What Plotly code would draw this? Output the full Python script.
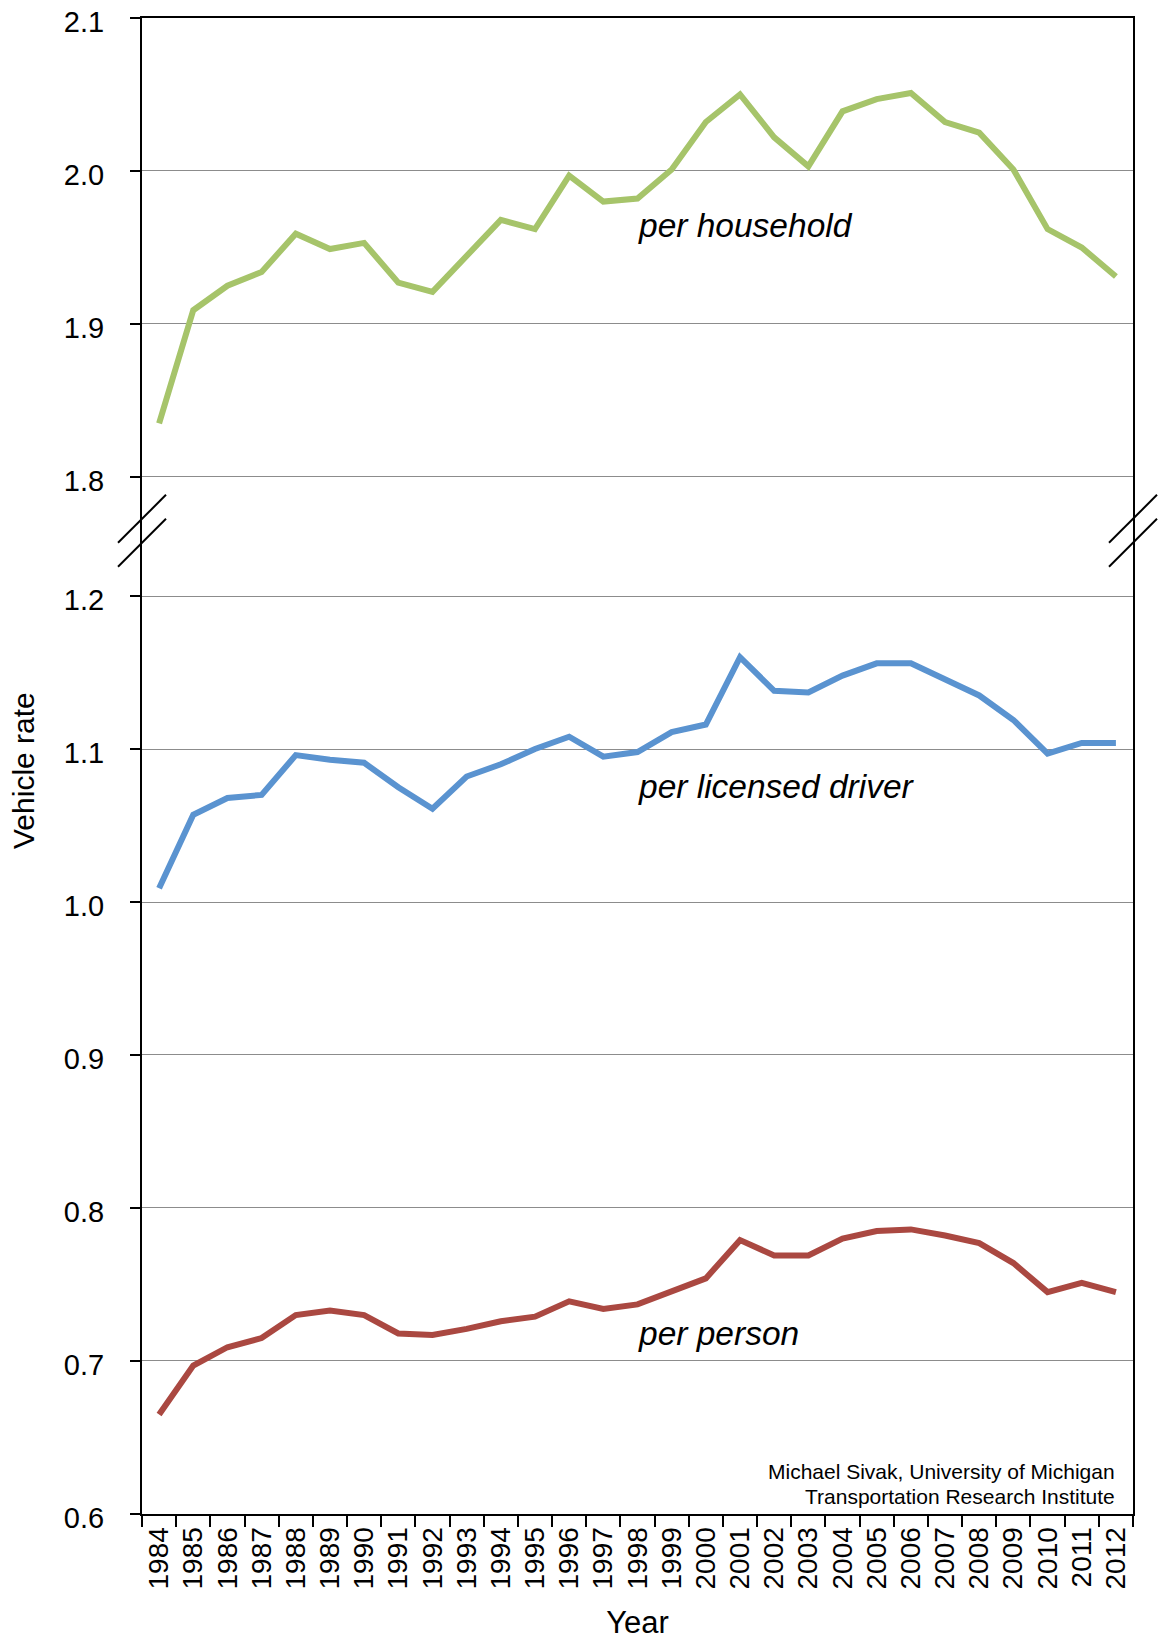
import plotly.graph_objects as go
from plotly.subplots import make_subplots

years = [str(y) for y in range(1984, 2013)]

per_household = [1.835, 1.909, 1.925, 1.934, 1.959, 1.949, 1.953, 1.927, 1.921, 1.944,
                 1.968, 1.962, 1.997, 1.980, 1.982, 2.001, 2.032, 2.050, 2.022, 2.003,
                 2.039, 2.047, 2.051, 2.032, 2.025, 2.001, 1.962, 1.950, 1.931]

per_licensed_driver = [1.009, 1.057, 1.068, 1.070, 1.096, 1.093, 1.091, 1.075, 1.061, 1.082,
                       1.090, 1.100, 1.108, 1.095, 1.098, 1.111, 1.116, 1.160, 1.138, 1.137,
                       1.148, 1.156, 1.156, 1.145, 1.135, 1.119, 1.097, 1.104, 1.104]

per_person = [0.665, 0.697, 0.709, 0.715, 0.730, 0.733, 0.730, 0.718, 0.717, 0.721,
              0.726, 0.729, 0.739, 0.734, 0.737, 0.745, 0.754, 0.779, 0.769, 0.769,
              0.780, 0.785, 0.786, 0.782, 0.777, 0.764, 0.745, 0.751, 0.745]

top_ticks = [1.8, 1.9, 2.0, 2.1]
bottom_ticks = [0.6, 0.7, 0.8, 0.9, 1.0, 1.1, 1.2]

GREEN = "#A6C46A"
BLUE = "#5A93D0"
RED = "#AA4841"
FONT = "Liberation Sans, Arial, sans-serif"

BREAK = 0.6572

fig = make_subplots(rows=2, cols=1, shared_xaxes=False, vertical_spacing=0,
                    row_heights=[1 - BREAK, BREAK])

fig.add_trace(go.Scatter(x=years, y=per_household, mode="lines",
                         line=dict(color=GREEN, width=6), name="per household"),
              row=1, col=1)
fig.add_trace(go.Scatter(x=years, y=per_licensed_driver, mode="lines",
                         line=dict(color=BLUE, width=6), name="per licensed driver"),
              row=2, col=1)
fig.add_trace(go.Scatter(x=years, y=per_person, mode="lines",
                         line=dict(color=RED, width=6), name="per person"),
              row=2, col=1)

grid = "#8C8C8C"
tickfont = dict(family=FONT, size=28, color="black")
ytickfont = dict(family=FONT, size=29, color="black")

fig.update_layout(
    width=1159, height=1640,
    margin=dict(l=142, r=26, t=17.5, b=126),
    paper_bgcolor="white", plot_bgcolor="white",
    showlegend=False,
    font=dict(family=FONT, color="black"),
)

yaxis_common = dict(tickformat=".1f", showline=True, mirror=True, linecolor="black", linewidth=2,
                    ticks="outside", ticklen=10, tickwidth=1.5, tickcolor="black",
                    ticklabelstandoff=20, ticklabelshift=4, tickfont=ytickfont,
                    ticklabeloverflow="allow",
                    showgrid=True, gridcolor=grid, gridwidth=1, zeroline=False, automargin=False)

# top subplot axes
fig.update_xaxes(row=1, col=1, type="category", side="top", showline=True, linecolor="black",
                 linewidth=2, ticks="", showticklabels=False, showgrid=False, zeroline=False,
                 range=[-0.5, 28.5], automargin=False)
fig.update_yaxes(row=1, col=1, range=[1.7648, 2.1], tickvals=top_ticks, **yaxis_common)

# bottom subplot axes
fig.update_xaxes(row=2, col=1, type="category", showline=True, linecolor="black", linewidth=2,
                 ticks="outside", ticklen=11, tickwidth=1.5, tickcolor="black",
                 tickson="boundaries", tickangle=-90, tickfont=tickfont, ticklabeloverflow="allow",
                 showgrid=False, zeroline=False, range=[-0.5, 28.5], automargin=False,
                 title=dict(text="Year", font=dict(family=FONT, size=31), standoff=25))
fig.update_yaxes(row=2, col=1, range=[0.6, 1.2426], tickvals=bottom_ticks, **yaxis_common)

# y axis title centred over whole plot height
fig.add_annotation(text="Vehicle rate", xref="paper", yref="paper", x=0, y=0.497,
                   xshift=-137, textangle=-90, showarrow=False,
                   font=dict(family=FONT, size=30, color="black"))

# series labels (category axes take the category index)
i1998 = years.index("1998")
i2012 = years.index("2012")
ann_font = dict(family=FONT, size=33.5, color="black")
fig.add_annotation(text="<i>per household</i>", x=i1998, y=1.9647, xref="x", yref="y",
                   xanchor="left", yanchor="middle", xshift=-2, showarrow=False, font=ann_font)
fig.add_annotation(text="<i>per licensed driver</i>", x=i1998, y=1.0753, xref="x2", yref="y2",
                   xanchor="left", yanchor="middle", xshift=-2, showarrow=False, font=ann_font)
fig.add_annotation(text="<i>per person</i>", x=i1998, y=0.7177, xref="x2", yref="y2",
                   xanchor="left", yanchor="middle", xshift=-2, showarrow=False, font=ann_font)

credit_font = dict(family=FONT, size=21, color="black")
fig.add_annotation(text="Michael Sivak, University of Michigan",
                   x=i2012, y=0.6279, xref="x2", yref="y2", xanchor="right", yanchor="middle",
                   xshift=1, showarrow=False, font=credit_font)
fig.add_annotation(text="Transportation Research Institute",
                   x=i2012, y=0.6116, xref="x2", yref="y2", xanchor="right", yanchor="middle",
                   xshift=1, showarrow=False, font=credit_font)

# axis-break marks on both sides
for xa in (0, 1):
    for off in (12, -12):
        fig.add_shape(type="line", xref="paper", yref="paper",
                      xsizemode="pixel", ysizemode="pixel",
                      xanchor=xa, yanchor=BREAK,
                      x0=-24, x1=24, y0=off - 24, y1=off + 24,
                      line=dict(color="black", width=2))

# remove the default page margin so the figure fills the window exactly
fig.write_html("out.html", config={"displayModeBar": False},
               post_script="document.body.style.margin='0';document.body.style.overflow='hidden';")
